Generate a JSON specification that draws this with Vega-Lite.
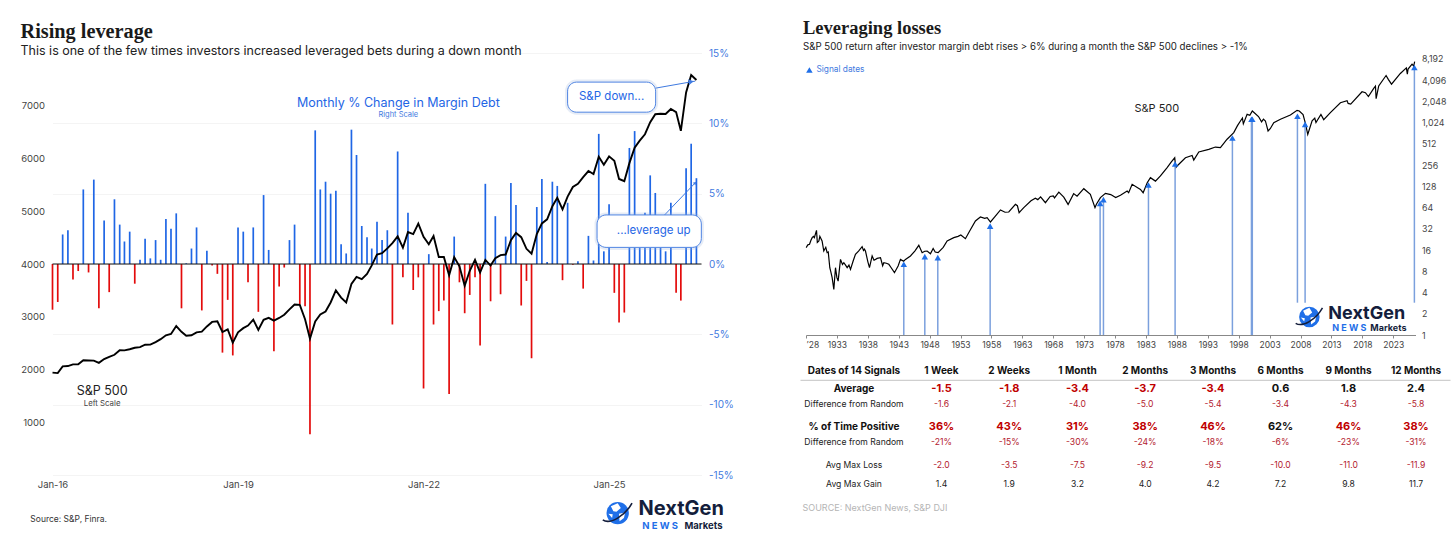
{
  "$schema": "https://vega.github.io/schema/vega-lite/v6.json",
  "background": "white",
  "padding": {"left": 19.5, "top": 18, "right": 0, "bottom": 0},
  "bounds": "flush",
  "spacing": 104.5,
  "config": {"view": {"stroke": null}, "font": "Inter", "text": {"font": "Inter"}},
  "datasets": {
    "margin": [
      {"month":"2016-01-01","chg":-3.25,"sp500":1940},{"month":"2016-02-01","chg":-2.7,"sp500":1932},{"month":"2016-03-01","chg":2.1,"sp500":2060},{"month":"2016-04-01","chg":2.4,"sp500":2065},{"month":"2016-05-01","chg":-1.1,"sp500":2097},{"month":"2016-06-01","chg":-0.5,"sp500":2099},{"month":"2016-07-01","chg":5.3,"sp500":2174},{"month":"2016-08-01","chg":-0.6,"sp500":2171},{"month":"2016-09-01","chg":6.0,"sp500":2168},{"month":"2016-10-01","chg":-3.15,"sp500":2126},{"month":"2016-11-01","chg":3.1,"sp500":2199},{"month":"2016-12-01","chg":-2.0,"sp500":2239},
      {"month":"2017-01-01","chg":4.6,"sp500":2279},{"month":"2017-02-01","chg":2.8,"sp500":2364},{"month":"2017-03-01","chg":1.6,"sp500":2363},{"month":"2017-04-01","chg":2.3,"sp500":2384},{"month":"2017-05-01","chg":-1.4,"sp500":2412},{"month":"2017-06-01","chg":0.3,"sp500":2423},{"month":"2017-07-01","chg":1.8,"sp500":2470},{"month":"2017-08-01","chg":0.4,"sp500":2472},{"month":"2017-09-01","chg":1.7,"sp500":2519},{"month":"2017-10-01","chg":0.3,"sp500":2575},{"month":"2017-11-01","chg":3.2,"sp500":2648},{"month":"2017-12-01","chg":2.5,"sp500":2674},
      {"month":"2018-01-01","chg":3.6,"sp500":2824},{"month":"2018-02-01","chg":-3.15,"sp500":2714},{"month":"2018-03-01","chg":0.05,"sp500":2641},{"month":"2018-04-01","chg":1.1,"sp500":2648},{"month":"2018-05-01","chg":2.6,"sp500":2705},{"month":"2018-06-01","chg":-3.3,"sp500":2718},{"month":"2018-07-01","chg":0.95,"sp500":2816},{"month":"2018-08-01","chg":-0.1,"sp500":2902},{"month":"2018-09-01","chg":-0.7,"sp500":2914},{"month":"2018-10-01","chg":-6.3,"sp500":2711},{"month":"2018-11-01","chg":-2.55,"sp500":2760},{"month":"2018-12-01","chg":-6.5,"sp500":2507},
      {"month":"2019-01-01","chg":2.6,"sp500":2704},{"month":"2019-02-01","chg":2.3,"sp500":2784},{"month":"2019-03-01","chg":-1.3,"sp500":2834},{"month":"2019-04-01","chg":2.6,"sp500":2946},{"month":"2019-05-01","chg":-3.4,"sp500":2752},{"month":"2019-06-01","chg":4.9,"sp500":2942},{"month":"2019-07-01","chg":1.0,"sp500":2980},{"month":"2019-08-01","chg":-6.2,"sp500":2926},{"month":"2019-09-01","chg":-1.6,"sp500":2977},{"month":"2019-10-01","chg":-0.25,"sp500":3038},{"month":"2019-11-01","chg":1.7,"sp500":3141},{"month":"2019-12-01","chg":2.8,"sp500":3231},
      {"month":"2020-01-01","chg":-2.85,"sp500":3226},{"month":"2020-02-01","chg":-3.0,"sp500":2954},{"month":"2020-03-01","chg":-12.1,"sp500":2585},{"month":"2020-04-01","chg":9.5,"sp500":2912},{"month":"2020-05-01","chg":5.3,"sp500":3044},{"month":"2020-06-01","chg":5.85,"sp500":3100},{"month":"2020-07-01","chg":5.0,"sp500":3271},{"month":"2020-08-01","chg":5.2,"sp500":3500},{"month":"2020-09-01","chg":1.4,"sp500":3363},{"month":"2020-10-01","chg":0.75,"sp500":3270},{"month":"2020-11-01","chg":9.55,"sp500":3622},{"month":"2020-12-01","chg":7.75,"sp500":3756},
      {"month":"2021-01-01","chg":2.7,"sp500":3714},{"month":"2021-02-01","chg":1.9,"sp500":3811},{"month":"2021-03-01","chg":1.1,"sp500":3973},{"month":"2021-04-01","chg":3.0,"sp500":4181},{"month":"2021-05-01","chg":1.7,"sp500":4204},{"month":"2021-06-01","chg":2.4,"sp500":4297},{"month":"2021-07-01","chg":-4.3,"sp500":4395},{"month":"2021-08-01","chg":8.0,"sp500":4523},{"month":"2021-09-01","chg":-0.95,"sp500":4308},{"month":"2021-10-01","chg":3.65,"sp500":4605},{"month":"2021-11-01","chg":-1.85,"sp500":4567},{"month":"2021-12-01","chg":-0.95,"sp500":4766},
      {"month":"2022-01-01","chg":-8.85,"sp500":4516},{"month":"2022-02-01","chg":0.7,"sp500":4374},{"month":"2022-03-01","chg":-4.3,"sp500":4530},{"month":"2022-04-01","chg":-3.35,"sp500":4132},{"month":"2022-05-01","chg":-2.6,"sp500":4132},{"month":"2022-06-01","chg":-9.25,"sp500":3785},{"month":"2022-07-01","chg":1.95,"sp500":4130},{"month":"2022-08-01","chg":-1.3,"sp500":3955},{"month":"2022-09-01","chg":-3.5,"sp500":3586},{"month":"2022-10-01","chg":-2.2,"sp500":3872},{"month":"2022-11-01","chg":-0.95,"sp500":4080},{"month":"2022-12-01","chg":-5.8,"sp500":3840},
      {"month":"2023-01-01","chg":5.7,"sp500":4077},{"month":"2023-02-01","chg":-2.65,"sp500":3970},{"month":"2023-03-01","chg":3.4,"sp500":4109},{"month":"2023-04-01","chg":-2.15,"sp500":4169},{"month":"2023-05-01","chg":1.95,"sp500":4180},{"month":"2023-06-01","chg":5.75,"sp500":4450},{"month":"2023-07-01","chg":4.2,"sp500":4589},{"month":"2023-08-01","chg":-2.95,"sp500":4508},{"month":"2023-09-01","chg":-1.2,"sp500":4288},{"month":"2023-10-01","chg":-6.7,"sp500":4194},{"month":"2023-11-01","chg":4.05,"sp500":4568},{"month":"2023-12-01","chg":6.05,"sp500":4770},
      {"month":"2024-01-01","chg":0.15,"sp500":4846},{"month":"2024-02-01","chg":5.85,"sp500":5096},{"month":"2024-03-01","chg":5.55,"sp500":5254},{"month":"2024-04-01","chg":-1.15,"sp500":5036},{"month":"2024-05-01","chg":4.35,"sp500":5277},{"month":"2024-06-01","chg":-0.05,"sp500":5460},{"month":"2024-07-01","chg":0.2,"sp500":5522},{"month":"2024-08-01","chg":-1.75,"sp500":5648},{"month":"2024-09-01","chg":2.0,"sp500":5762},{"month":"2024-10-01","chg":0.25,"sp500":5705},{"month":"2024-11-01","chg":9.25,"sp500":6032},{"month":"2024-12-01","chg":0.9,"sp500":5882},
      {"month":"2025-01-01","chg":4.25,"sp500":6040},{"month":"2025-02-01","chg":-2.05,"sp500":5955},{"month":"2025-03-01","chg":-4.15,"sp500":5612},{"month":"2025-04-01","chg":-3.45,"sp500":5569},{"month":"2025-05-01","chg":8.25,"sp500":5912},{"month":"2025-06-01","chg":9.45,"sp500":6205},{"month":"2025-07-01","chg":2.5,"sp500":6339},{"month":"2025-08-01","chg":3.65,"sp500":6460},{"month":"2025-09-01","chg":6.3,"sp500":6688},{"month":"2025-10-01","chg":5.05,"sp500":6840},{"month":"2025-11-01","chg":2.0,"sp500":6849},{"month":"2025-12-01","chg":0.9,"sp500":6845},
      {"month":"2026-01-01","chg":4.35,"sp500":6939},{"month":"2026-02-01","chg":-2.05,"sp500":6879},{"month":"2026-03-01","chg":-2.6,"sp500":6525},{"month":"2026-04-01","chg":6.8,"sp500":7253},{"month":"2026-05-01","chg":8.55,"sp500":7582},{"month":"2026-06-01","chg":6.1,"sp500":7487}
    ],
    "history": [
      {"year":1928.03,"price":17.3},{"year":1928.3,"price":19},{"year":1928.57,"price":19.3},{"year":1928.8,"price":22},{"year":1929.0,"price":24},{"year":1929.2,"price":25},{"year":1929.35,"price":24},{"year":1929.7,"price":30.5},{"year":1929.83,"price":20.5},{"year":1930.08,"price":21.5},{"year":1930.24,"price":25.1},{"year":1930.6,"price":21.5},{"year":1930.88,"price":15.5},{"year":1931.2,"price":17.5},{"year":1931.42,"price":14.7},{"year":1931.6,"price":15},{"year":1931.85,"price":9},{"year":1932.0,"price":8},{"year":1932.23,"price":6.5},{"year":1932.5,"price":4.44},{"year":1932.77,"price":9},{"year":1933.0,"price":6.5},{"year":1933.2,"price":5.8},{"year":1933.58,"price":11.8},{"year":1933.9,"price":10},{"year":1934.12,"price":10.6},{"year":1934.4,"price":9.8},{"year":1934.66,"price":9},{"year":1934.95,"price":9.8},{"year":1935.2,"price":8.5},{"year":1935.6,"price":11},{"year":1936.0,"price":13.9},{"year":1936.5,"price":15.5},{"year":1937.08,"price":17.9},{"year":1937.3,"price":15.8},{"year":1937.45,"price":16.5},{"year":1937.62,"price":15.5},{"year":1938.0,"price":11},{"year":1938.27,"price":9},{"year":1938.7,"price":13.2},{"year":1939.0,"price":11.5},{"year":1939.24,"price":11.8},{"year":1939.5,"price":12.2},{"year":1940.05,"price":12.5},{"year":1940.4,"price":9.6},{"year":1940.59,"price":10.6},{"year":1941.0,"price":10.4},{"year":1941.4,"price":10.05},{"year":1941.7,"price":9.2},{"year":1942.31,"price":7.65},{"year":1942.9,"price":9.5},{"year":1943.28,"price":11.8},{"year":1943.8,"price":11.1},{"year":1944.09,"price":11.8},{"year":1944.9,"price":13.2},{"year":1945.6,"price":15.5},{"year":1946.25,"price":18.7},{"year":1946.79,"price":14.7},{"year":1947.2,"price":15.4},{"year":1947.6,"price":15.5},{"year":1948.13,"price":14.2},{"year":1948.57,"price":16.8},{"year":1948.9,"price":15},{"year":1949.37,"price":14.7},{"year":1950.2,"price":17.5},{"year":1950.83,"price":21.5},{"year":1951.91,"price":24},{"year":1952.6,"price":25},{"year":1953.05,"price":26.2},{"year":1953.79,"price":23.2},{"year":1954.5,"price":30},{"year":1955.41,"price":41.3},{"year":1955.8,"price":44},{"year":1956.22,"price":47.1},{"year":1956.9,"price":45},{"year":1957.3,"price":46.2},{"year":1957.84,"price":40},{"year":1958.6,"price":48},{"year":1959.46,"price":59.3},{"year":1960.2,"price":55},{"year":1960.8,"price":55.4},{"year":1961.88,"price":71},{"year":1962.2,"price":68},{"year":1962.48,"price":54.2},{"year":1962.7,"price":57},{"year":1963.23,"price":64},{"year":1964.4,"price":80},{"year":1965.1,"price":87},{"year":1965.5,"price":83},{"year":1965.95,"price":91},{"year":1966.73,"price":75},{"year":1967.5,"price":92},{"year":1968.0,"price":94},{"year":1968.2,"price":88},{"year":1968.9,"price":106},{"year":1969.7,"price":90},{"year":1970.4,"price":71},{"year":1971.3,"price":101},{"year":1971.85,"price":93},{"year":1972.94,"price":118.6},{"year":1974.0,"price":98.4},{"year":1974.75,"price":64},{"year":1975.0,"price":72},{"year":1975.63,"price":88.6},{"year":1976.44,"price":102},{"year":1977.3,"price":98},{"year":1978.1,"price":88.6},{"year":1978.87,"price":96},{"year":1979.95,"price":110},{"year":1980.2,"price":104},{"year":1980.76,"price":137},{"year":1982.1,"price":116},{"year":1982.54,"price":104},{"year":1983.2,"price":144},{"year":1983.72,"price":170},{"year":1984.53,"price":152},{"year":1985.34,"price":180},{"year":1986.42,"price":236},{"year":1987.1,"price":285},{"year":1987.65,"price":325},{"year":1987.82,"price":235},{"year":1988.03,"price":249},{"year":1989.38,"price":326},{"year":1990.46,"price":350},{"year":1990.73,"price":302},{"year":1991.54,"price":393},{"year":1993.16,"price":428},{"year":1994.23,"price":462},{"year":1995.04,"price":452},{"year":1996.12,"price":596},{"year":1997.2,"price":739},{"year":1997.8,"price":930},{"year":1998.28,"price":1082},{"year":1998.6,"price":1186},{"year":1998.75,"price":985},{"year":1999.36,"price":1342},{"year":1999.8,"price":1300},{"year":2000.2,"price":1498},{"year":2000.43,"price":1440},{"year":2001.2,"price":1250},{"year":2001.7,"price":1050},{"year":2002.0,"price":1150},{"year":2002.32,"price":1082},{"year":2002.75,"price":781},{"year":2003.1,"price":840},{"year":2003.67,"price":1020},{"year":2004.75,"price":1144},{"year":2006.36,"price":1314},{"year":2007.44,"price":1531},{"year":2007.8,"price":1500},{"year":2008.41,"price":1330},{"year":2008.79,"price":1000},{"year":2009.17,"price":700},{"year":2009.87,"price":1090},{"year":2010.3,"price":1190},{"year":2010.5,"price":1030},{"year":2011.3,"price":1340},{"year":2011.75,"price":1130},{"year":2012.83,"price":1418},{"year":2014.45,"price":1960},{"year":2015.53,"price":2100},{"year":2015.7,"price":1920},{"year":2016.12,"price":1880},{"year":2017.95,"price":2810},{"year":2018.5,"price":2720},{"year":2018.98,"price":2400},{"year":2019.84,"price":3140},{"year":2020.12,"price":3380},{"year":2020.23,"price":2240},{"year":2020.65,"price":3396},{"year":2021.84,"price":4770},{"year":2022.2,"price":4200},{"year":2022.72,"price":3600},{"year":2024.15,"price":5100},{"year":2025.12,"price":6120},{"year":2025.28,"price":4980},{"year":2025.4,"price":5900},{"year":2026.04,"price":6930},{"year":2026.3,"price":6500},{"year":2026.47,"price":7485}
    ],
    "signals": [
      {"year":1943.82,"price":10.05,"foot":1},{"year":1947.22,"price":12.9,"foot":1},{"year":1949.32,"price":12.5,"foot":1},{"year":1957.79,"price":35,"foot":1},{"year":1975.58,"price":73.5,"foot":1},{"year":1976.12,"price":82.9,"foot":1},{"year":1983.4,"price":134,"foot":1},{"year":1987.71,"price":265,"foot":1},{"year":1996.98,"price":621,"foot":1},{"year":2000.06,"price":1144,"foot":1},{"year":2000.2,"price":1144,"foot":1},{"year":2007.5,"price":1261,"foot":2.87},{"year":2008.74,"price":969,"foot":2.87},{"year":2026.42,"price":6208,"foot":2.87}
    ],
    "tableCols": [
      {"period":"Dates of 14 Signals","slot":48},{"period":"1 Week","slot":135.5},{"period":"2 Weeks","slot":203.2},{"period":"1 Month","slot":271.5},{"period":"2 Months","slot":339.1},{"period":"3 Months","slot":407},{"period":"6 Months","slot":474.5},{"period":"9 Months","slot":542.5},{"period":"12 Months","slot":610}
    ],
    "tableLines": [
      {"metric":"head","line":10},{"metric":"avg","line":27.7},{"metric":"avg_diff","line":43},{"metric":"pos","line":66},{"metric":"pos_diff","line":81.3},{"metric":"loss","line":104},{"metric":"gain","line":123}
    ],
    "table": [
      {"metric":"head","period":"Dates of 14 Signals","cell":"Dates of 14 Signals"},{"metric":"head","period":"1 Week","cell":"1 Week"},{"metric":"head","period":"2 Weeks","cell":"2 Weeks"},{"metric":"head","period":"1 Month","cell":"1 Month"},{"metric":"head","period":"2 Months","cell":"2 Months"},{"metric":"head","period":"3 Months","cell":"3 Months"},{"metric":"head","period":"6 Months","cell":"6 Months"},{"metric":"head","period":"9 Months","cell":"9 Months"},{"metric":"head","period":"12 Months","cell":"12 Months"},
      {"metric":"avg","period":"Dates of 14 Signals","cell":"Average"},{"metric":"avg","period":"1 Week","cell":"-1.5","value":-1.5},{"metric":"avg","period":"2 Weeks","cell":"-1.8","value":-1.8},{"metric":"avg","period":"1 Month","cell":"-3.4","value":-3.4},{"metric":"avg","period":"2 Months","cell":"-3.7","value":-3.7},{"metric":"avg","period":"3 Months","cell":"-3.4","value":-3.4},{"metric":"avg","period":"6 Months","cell":"0.6","value":0.6},{"metric":"avg","period":"9 Months","cell":"1.8","value":1.8},{"metric":"avg","period":"12 Months","cell":"2.4","value":2.4},
      {"metric":"avg_diff","period":"Dates of 14 Signals","cell":"Difference from Random"},{"metric":"avg_diff","period":"1 Week","cell":"-1.6","value":-1.6},{"metric":"avg_diff","period":"2 Weeks","cell":"-2.1","value":-2.1},{"metric":"avg_diff","period":"1 Month","cell":"-4.0","value":-4.0},{"metric":"avg_diff","period":"2 Months","cell":"-5.0","value":-5.0},{"metric":"avg_diff","period":"3 Months","cell":"-5.4","value":-5.4},{"metric":"avg_diff","period":"6 Months","cell":"-3.4","value":-3.4},{"metric":"avg_diff","period":"9 Months","cell":"-4.3","value":-4.3},{"metric":"avg_diff","period":"12 Months","cell":"-5.8","value":-5.8},
      {"metric":"pos","period":"Dates of 14 Signals","cell":"% of Time Positive"},{"metric":"pos","period":"1 Week","cell":"36%","value":36},{"metric":"pos","period":"2 Weeks","cell":"43%","value":43},{"metric":"pos","period":"1 Month","cell":"31%","value":31},{"metric":"pos","period":"2 Months","cell":"38%","value":38},{"metric":"pos","period":"3 Months","cell":"46%","value":46},{"metric":"pos","period":"6 Months","cell":"62%","value":62},{"metric":"pos","period":"9 Months","cell":"46%","value":46},{"metric":"pos","period":"12 Months","cell":"38%","value":38},
      {"metric":"pos_diff","period":"Dates of 14 Signals","cell":"Difference from Random"},{"metric":"pos_diff","period":"1 Week","cell":"-21%","value":-21},{"metric":"pos_diff","period":"2 Weeks","cell":"-15%","value":-15},{"metric":"pos_diff","period":"1 Month","cell":"-30%","value":-30},{"metric":"pos_diff","period":"2 Months","cell":"-24%","value":-24},{"metric":"pos_diff","period":"3 Months","cell":"-18%","value":-18},{"metric":"pos_diff","period":"6 Months","cell":"-6%","value":-6},{"metric":"pos_diff","period":"9 Months","cell":"-23%","value":-23},{"metric":"pos_diff","period":"12 Months","cell":"-31%","value":-31},
      {"metric":"loss","period":"Dates of 14 Signals","cell":"Avg Max Loss"},{"metric":"loss","period":"1 Week","cell":"-2.0","value":-2.0},{"metric":"loss","period":"2 Weeks","cell":"-3.5","value":-3.5},{"metric":"loss","period":"1 Month","cell":"-7.5","value":-7.5},{"metric":"loss","period":"2 Months","cell":"-9.2","value":-9.2},{"metric":"loss","period":"3 Months","cell":"-9.5","value":-9.5},{"metric":"loss","period":"6 Months","cell":"-10.0","value":-10.0},{"metric":"loss","period":"9 Months","cell":"-11.0","value":-11.0},{"metric":"loss","period":"12 Months","cell":"-11.9","value":-11.9},
      {"metric":"gain","period":"Dates of 14 Signals","cell":"Avg Max Gain"},{"metric":"gain","period":"1 Week","cell":"1.4","value":1.4},{"metric":"gain","period":"2 Weeks","cell":"1.9","value":1.9},{"metric":"gain","period":"1 Month","cell":"3.2","value":3.2},{"metric":"gain","period":"2 Months","cell":"4.0","value":4.0},{"metric":"gain","period":"3 Months","cell":"4.2","value":4.2},{"metric":"gain","period":"6 Months","cell":"7.2","value":7.2},{"metric":"gain","period":"9 Months","cell":"9.8","value":9.8},{"metric":"gain","period":"12 Months","cell":"11.7","value":11.7}
    ]
  },
  "hconcat": [
    {
      "width": 649,
      "height": 422,
      "title": {"text": "Rising leverage", "subtitle": "This is one of the few times investors increased leveraged bets during a down month", "anchor": "start", "frame": "group", "dx": -32, "offset": -9, "font": "Liberation Serif", "fontSize": 20.3, "fontWeight": "bold", "color": "#1a1a1a", "subtitleFont": "Inter", "subtitleFontSize": 12.5, "subtitleColor": "#222222", "subtitlePadding": 2},
      "encoding": {
        "x": {"field": "month", "type": "temporal", "scale": {"type": "utc", "domain": ["2016-01-01", "2026-07-01"], "padding": 0}, "axis": {"values": ["2016-01-01", "2019-01-01", "2022-01-01", "2025-01-01"], "format": "%b-%y", "grid": false, "domain": false, "ticks": false, "labelFlush": false, "labelFont": "Inter", "labelFontSize": 9.5, "labelColor": "#444444", "labelPadding": 4, "title": null}}
      },
      "layer": [
        {
          "data": {"name": "margin"},
          "encoding": {
            "y": {"field": "chg", "type": "quantitative", "scale": {"domain": [-15, 15], "nice": false}, "axis": {"orient": "right", "values": [-15, -10, -5, 0, 5, 10, 15], "labelExpr": "datum.value + '%'", "grid": true, "gridColor": "#f4f4f4", "domain": false, "ticks": false, "labelFont": "Inter", "labelFontSize": 10, "labelColor": "#3f7ae0", "labelPadding": 7, "title": null}}
          },
          "layer": [
            {
              "mark": {"type": "bar", "width": 1.7},
              "encoding": {"color": {"condition": {"test": "datum.chg < 0", "value": "#e30b0b"}, "value": "#1f66e5"}}
            },
            {
              "data": {"values": [{"month": "2016-01-01", "end": "2026-07-01", "chg": 0}]},
              "mark": {"type": "rule", "color": "#111111", "strokeWidth": 1},
              "encoding": {"x2": {"field": "end"}}
            }
          ]
        },
        {
          "encoding": {
            "y": {"field": "level", "type": "quantitative", "scale": {"domain": [0, 8000], "nice": false}, "axis": {"orient": "left", "values": [1000, 2000, 3000, 4000, 5000, 6000, 7000], "format": "d", "grid": false, "domain": false, "ticks": false, "labelFont": "Inter", "labelFontSize": 9.5, "labelColor": "#444444", "labelPadding": 8, "title": null}}
          },
          "layer": [
            {
              "data": {"name": "margin"},
              "mark": {"type": "line", "color": "#000000", "strokeWidth": 1.9},
              "encoding": {"y": {"field": "sp500", "type": "quantitative"}}
            },
            {
              "data": {"values": [{"start": "2025-10-03", "end": "2026-05-25", "level": 7334, "to": 7467}, {"start": "2025-11-25", "end": "2026-05-25", "level": 4930, "to": 5538}]},
              "mark": {"type": "rule", "color": "#3f7ae0", "strokeWidth": 1},
              "encoding": {"x": {"field": "start", "type": "temporal"}, "x2": {"field": "end"}, "y2": {"field": "to"}}
            },
            {
              "data": {"values": [{"month": "2026-05-01", "level": 7455}]},
              "mark": {"type": "point", "shape": "triangle-right", "filled": true, "opacity": 1, "color": "#3f7ae0", "size": 35, "angle": -10}
            },
            {
              "data": {"values": [{"month": "2026-05-25", "level": 5538}]},
              "mark": {"type": "point", "shape": "triangle-right", "filled": true, "opacity": 1, "color": "#3f7ae0", "size": 14, "angle": -45}
            },
            {
              "data": {"values": [{"start": "2024-05-01", "end": "2025-10-03", "level": 7448, "low": 6878}, {"start": "2024-10-22", "end": "2026-06-30", "level": 4930, "low": 4315}]},
              "encoding": {"x": {"field": "start", "type": "temporal"}, "x2": {"field": "end"}, "y2": {"field": "low"}},
              "layer": [
                {"mark": {"type": "rect", "cornerRadius": 9, "fill": "#ffffff", "stroke": "#9bb4dc", "strokeOpacity": 0.25, "strokeWidth": 5}},
                {"mark": {"type": "rect", "cornerRadius": 9, "fill": "#ffffff", "stroke": "#4f84e2", "strokeWidth": 1}}
              ]
            },
            {
              "data": {"values": [{"month": "2025-01-16", "level": 7157, "note": "S&P down..."}, {"month": "2025-09-22", "level": 4623, "note": "...leverage up"}]},
              "mark": {"type": "text", "fontSize": 11.5, "color": "#1f66e5"},
              "encoding": {"text": {"field": "note"}}
            },
            {
              "data": {"values": [{"month": "2021-08-05", "level": 7043, "note": "Monthly % Change in Margin Debt"}]},
              "mark": {"type": "text", "fontSize": 12.5, "color": "#1f66e5"},
              "encoding": {"text": {"field": "note"}}
            },
            {
              "data": {"values": [{"month": "2021-08-05", "level": 6816, "note": "Right Scale"}]},
              "mark": {"type": "text", "fontSize": 7.5, "color": "#3f7ae0"},
              "encoding": {"text": {"field": "note"}}
            },
            {
              "data": {"values": [{"month": "2016-10-20", "level": 1594, "note": "S&P 500"}]},
              "mark": {"type": "text", "fontSize": 12.5, "color": "#222222"},
              "encoding": {"text": {"field": "note"}}
            },
            {
              "data": {"values": [{"month": "2016-10-20", "level": 1348, "note": "Left Scale"}]},
              "mark": {"type": "text", "fontSize": 7.8, "color": "#444444"},
              "encoding": {"text": {"field": "note"}}
            },
            {
              "data": {"values": [{"month": "2015-08-23", "level": -836, "note": "Source: S&P, Finra."}]},
              "mark": {"type": "text", "align": "left", "fontSize": 8.5, "color": "#333333"},
              "encoding": {"text": {"field": "note"}}
            },
            {
              "data": {"values": [{"month": "2025-02-21", "level": -722}]},
              "layer": [
                {"mark": {"type": "point", "shape": "circle", "filled": true, "opacity": 1, "color": "#1f6fe8", "size": 500}},
                {"mark": {"type": "point", "filled": true, "opacity": 1, "color": "#ffffff", "size": 620, "shape": "M-0.55,-0.55 L0,-0.8 L0.25,-0.4 L-0.1,-0.1 L-0.35,-0.15 Z M0.1,0.05 L0.6,-0.05 L0.5,0.4 L0.15,0.65 Z M-0.75,0.05 L-0.4,0.1 L-0.45,0.4 Z"}},
                {"mark": {"type": "point", "filled": false, "opacity": 1, "color": "#141e3c", "strokeWidth": 1.6, "size": 620, "shape": "M-1.2,0.55 C-0.6,0.95 0.6,0.2 1.15,-0.8"}}
              ]
            },
            {
              "data": {"values": [{"month": "2025-06-24", "level": -650, "note": "NextGen"}]},
              "mark": {"type": "text", "align": "left", "fontSize": 20, "fontWeight": "bold", "color": "#141e3c"},
              "encoding": {"text": {"field": "note"}}
            },
            {
              "data": {"values": [{"month": "2025-07-16", "level": -960, "note": "N E W S"}]},
              "mark": {"type": "text", "align": "left", "fontSize": 9.5, "fontWeight": "bold", "color": "#1f6fe8"},
              "encoding": {"text": {"field": "note"}}
            },
            {
              "data": {"values": [{"month": "2026-03-22", "level": -960, "note": "Markets"}]},
              "mark": {"type": "text", "align": "left", "fontSize": 9.5, "fontWeight": "bold", "color": "#141e3c"},
              "encoding": {"text": {"field": "note"}}
            }
          ]
        }
      ],
      "resolve": {"scale": {"y": "independent"}, "axis": {"y": "independent"}}
    },
    {
      "bounds": "flush",
      "spacing": 26,
      "vconcat": [
        {
          "width": 609.5,
          "height": 282,
          "title": {"text": "Leveraging losses", "subtitle": "S&P 500 return after investor margin debt rises > 6% during a month the S&P 500 declines > -1%", "anchor": "start", "frame": "group", "dx": -3, "offset": 1, "font": "Liberation Serif", "fontSize": 18.5, "fontWeight": "bold", "color": "#1a1a1a", "subtitleFont": "Inter", "subtitleFontSize": 9.7, "subtitleColor": "#222222", "subtitlePadding": 5},
          "encoding": {
            "x": {"field": "year", "type": "quantitative", "scale": {"domain": [1928, 2026.6], "nice": false, "zero": false}, "axis": {"values": [1928, 1933, 1938, 1943, 1948, 1953, 1958, 1963, 1968, 1973, 1978, 1983, 1988, 1993, 1998, 2003, 2008, 2013, 2018, 2023], "labelExpr": "datum.value === 1928 ? '\u201928' : '' + datum.value", "grid": false, "domainColor": "#888888", "tickColor": "#888888", "tickSize": 3, "labelFont": "Inter", "labelFontSize": 8.5, "labelColor": "#444444", "labelPadding": 2, "title": null}},
            "y": {"field": "price", "type": "quantitative", "scale": {"type": "log", "base": 2, "domain": [1, 9950], "nice": false}, "axis": {"orient": "right", "values": [1, 2, 4, 8, 16, 32, 64, 128, 256, 512, 1024, 2048, 4096, 8192], "format": ",d", "grid": false, "domain": false, "ticks": false, "labelFont": "Inter", "labelFontSize": 8.8, "labelColor": "#444444", "labelPadding": 6, "title": null}}
          },
          "layer": [
            {
              "data": {"name": "history"},
              "mark": {"type": "line", "color": "#000000", "strokeWidth": 1.2}
            },
            {
              "data": {"name": "signals"},
              "layer": [
                {"mark": {"type": "rule", "color": "#7ba0dd", "strokeWidth": 1.5}, "encoding": {"y2": {"field": "foot"}}},
                {"mark": {"type": "point", "shape": "triangle-up", "filled": true, "opacity": 1, "color": "#1f6fe8", "size": 42}}
              ]
            },
            {
              "data": {"values": [{"year": 1928.55, "price": 5713}]},
              "mark": {"type": "point", "shape": "triangle-up", "filled": true, "opacity": 1, "color": "#1f6fe8", "size": 42}
            },
            {
              "data": {"values": [{"year": 1929.7, "price": 5713, "note": "Signal dates"}]},
              "mark": {"type": "text", "align": "left", "fontSize": 8.3, "color": "#3f7ae0"},
              "encoding": {"text": {"field": "note"}}
            },
            {
              "data": {"values": [{"year": 1981.13, "price": 1600, "note": "S&P 500"}]},
              "mark": {"type": "text", "align": "left", "fontSize": 11, "color": "#222222"},
              "encoding": {"text": {"field": "note"}}
            },
            {
              "data": {"values": [{"year": 2009.43, "price": 1.8}]},
              "layer": [
                {"mark": {"type": "point", "shape": "circle", "filled": true, "opacity": 1, "color": "#1f6fe8", "size": 420}},
                {"mark": {"type": "point", "filled": true, "opacity": 1, "color": "#ffffff", "size": 520, "shape": "M-0.55,-0.55 L0,-0.8 L0.25,-0.4 L-0.1,-0.1 L-0.35,-0.15 Z M0.1,0.05 L0.6,-0.05 L0.5,0.4 L0.15,0.65 Z M-0.75,0.05 L-0.4,0.1 L-0.45,0.4 Z"}},
                {"mark": {"type": "point", "filled": false, "opacity": 1, "color": "#141e3c", "strokeWidth": 1.5, "size": 520, "shape": "M-1.2,0.55 C-0.6,0.95 0.6,0.2 1.15,-0.8"}}
              ]
            },
            {
              "data": {"values": [{"year": 2012.5, "price": 1.99, "note": "NextGen"}]},
              "mark": {"type": "text", "align": "left", "fontSize": 18, "fontWeight": "bold", "color": "#141e3c"},
              "encoding": {"text": {"field": "note"}}
            },
            {
              "data": {"values": [{"year": 2013.15, "price": 1.257, "note": "N E W S"}]},
              "mark": {"type": "text", "align": "left", "fontSize": 9, "fontWeight": "bold", "color": "#1f6fe8"},
              "encoding": {"text": {"field": "note"}}
            },
            {
              "data": {"values": [{"year": 2019.3, "price": 1.257, "note": "Markets"}]},
              "mark": {"type": "text", "align": "left", "fontSize": 9, "fontWeight": "bold", "color": "#141e3c"},
              "encoding": {"text": {"field": "note"}}
            }
          ]
        },
        {
          "width": 650,
          "height": 160,
          "data": {"name": "table"},
          "transform": [
            {"lookup": "period", "from": {"data": {"name": "tableCols"}, "key": "period", "fields": ["slot"]}},
            {"lookup": "metric", "from": {"data": {"name": "tableLines"}, "key": "metric", "fields": ["line"]}}
          ],
          "encoding": {
            "x": {"field": "slot", "type": "quantitative", "scale": {"domain": [0, 650], "nice": false, "zero": false}, "axis": null},
            "y": {"field": "line", "type": "quantitative", "scale": {"domain": [0, 160], "reverse": true, "nice": false}, "axis": null},
            "text": {"field": "cell"}
          },
          "layer": [
            {
              "transform": [{"filter": "datum.metric === 'head'"}],
              "mark": {"type": "text", "fontSize": 10, "fontWeight": "bold", "color": "#111111"}
            },
            {
              "transform": [{"filter": "datum.metric === 'avg' || datum.metric === 'pos'"}],
              "mark": {"type": "text", "fontWeight": "bold"},
              "encoding": {"size": {"condition": {"test": "datum.period === 'Dates of 14 Signals'", "value": 10}, "value": 11}, "color": {"condition": {"test": "datum.metric === 'pos' ? datum.value < 50 : datum.value < 0", "value": "#c00000"}, "value": "#111111"}}
            },
            {
              "transform": [{"filter": "datum.metric === 'avg_diff' || datum.metric === 'pos_diff' || datum.metric === 'loss' || datum.metric === 'gain'"}],
              "mark": {"type": "text", "fontSize": 8.6},
              "encoding": {"color": {"condition": {"test": "datum.value < 0", "value": "#b3202e"}, "value": "#222222"}}
            },
            {
              "data": {"values": [{"slot": -5.5, "end": 644.5, "line": 19.3}]},
              "mark": {"type": "rule", "color": "#cfcfcf", "strokeWidth": 1.2},
              "encoding": {"x2": {"field": "end"}, "text": null}
            },
            {
              "data": {"values": [{"slot": -3.5, "line": 146.7, "cell": "SOURCE: NextGen News, S&P DJI"}]},
              "mark": {"type": "text", "align": "left", "fontSize": 9, "color": "#b5b5b5"}
            }
          ]
        }
      ]
    }
  ]
}
